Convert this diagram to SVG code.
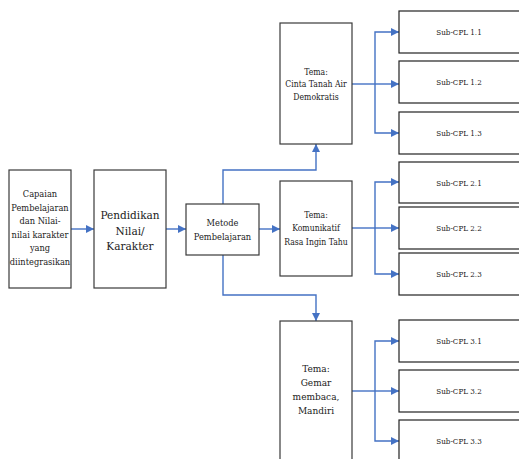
<svg xmlns="http://www.w3.org/2000/svg" width="519" height="459" viewBox="0 0 519 459">
<defs>
<marker id="ah" viewBox="0 0 10 10" refX="10" refY="5" markerWidth="8" markerHeight="8" markerUnits="userSpaceOnUse" orient="auto">
<path d="M0,0 L10,5 L0,10 z" fill="#4472C4"/>
</marker>
<style>
.box{fill:#fff;stroke:#3a3a3a;stroke-width:1.2}
.sub{fill:#fff;stroke:#222;stroke-width:1.2}
text{font-family:'DejaVu Serif Condensed','DejaVu Serif','Liberation Serif',serif;font-stretch:condensed;fill:#222;text-anchor:middle}
.s1{font-size:9.2px}
.s2{font-size:11.7px}
.s3{font-size:8.6px}
.s4{font-size:10px}
.s5{font-size:8px}
.c{fill:none;stroke:#4472C4;stroke-width:1.4}
.a{marker-end:url(#ah)}
</style>
</defs>
<rect width="519" height="459" fill="#fff"/>
<g id="connectors">
<line class="c a" x1="71" y1="229" x2="94" y2="229"/>
<line class="c a" x1="166" y1="229" x2="186" y2="229"/>
<line class="c a" x1="259" y1="229" x2="280" y2="229"/>
<polyline class="c a" points="223,204 223,170 316,170 316,144"/>
<polyline class="c a" points="223,255 223,295 316,295 316,321"/>
<line class="c" x1="352" y1="84" x2="375" y2="84"/>
<polyline class="c a" points="375,84 375,32 399,32"/>
<line class="c a" x1="375" y1="84" x2="399" y2="84"/>
<polyline class="c a" points="375,84 375,133 399,133"/>
<line class="c" x1="352" y1="228" x2="375" y2="228"/>
<polyline class="c a" points="375,228 375,182 399,182"/>
<line class="c a" x1="375" y1="228" x2="399" y2="228"/>
<polyline class="c a" points="375,228 375,274 399,274"/>
<line class="c" x1="352" y1="391" x2="375" y2="391"/>
<polyline class="c a" points="375,391 375,341 399,341"/>
<line class="c a" x1="375" y1="391" x2="399" y2="391"/>
<polyline class="c a" points="375,391 375,441 399,441"/>
</g>
<g id="capaian">
<rect class="box" x="9" y="170" width="62" height="118"/>
<text class="s1" x="40" y="197">Capaian</text>
<text class="s1" x="40" y="210.5">Pembelajaran</text>
<text class="s1" x="40" y="224">dan Nilai-</text>
<text class="s1" x="40" y="237.5">nilai karakter</text>
<text class="s1" x="40" y="251">yang</text>
<text class="s1" x="40" y="264.5">diintegrasikan</text>
</g>
<g id="pendidikan">
<rect class="box" x="94" y="170" width="72" height="118"/>
<text class="s2" x="130" y="219">Pendidikan</text>
<text class="s2" x="130" y="234.5">Nilai/</text>
<text class="s2" x="130" y="250">Karakter</text>
</g>
<g id="metode">
<rect class="box" x="186" y="204" width="73" height="51"/>
<text class="s1" x="222.5" y="226">Metode</text>
<text class="s1" x="222.5" y="240">Pembelajaran</text>
</g>
<g id="tema1">
<rect class="box" x="280" y="23" width="72" height="121"/>
<text class="s3" x="316" y="74.5">Tema:</text>
<text class="s3" x="316" y="87">Cinta Tanah Air</text>
<text class="s3" x="316" y="99.5">Demokratis</text>
</g>
<g id="tema2">
<rect class="box" x="280" y="181" width="72" height="95"/>
<text class="s3" x="316" y="217.5">Tema:</text>
<text class="s3" x="316" y="231">Komunikatif</text>
<text class="s3" x="316" y="244.5">Rasa Ingin Tahu</text>
</g>
<g id="tema3">
<rect class="box" x="280" y="321" width="72" height="150"/>
<text class="s4" x="316" y="372">Tema:</text>
<text class="s4" x="316" y="386">Gemar</text>
<text class="s4" x="316" y="400">membaca,</text>
<text class="s4" x="316" y="414">Mandiri</text>
</g>
<g id="sub11"><rect class="sub" x="399" y="11" width="130" height="42"/><text class="s5" x="459" y="35">Sub-CPL 1.1</text></g>
<g id="sub12"><rect class="sub" x="399" y="61" width="130" height="42"/><text class="s5" x="459" y="85">Sub-CPL 1.2</text></g>
<g id="sub13"><rect class="sub" x="399" y="112" width="130" height="42"/><text class="s5" x="459" y="136">Sub-CPL 1.3</text></g>
<g id="sub21"><rect class="sub" x="399" y="162" width="130" height="41"/><text class="s5" x="459" y="185.5">Sub-CPL 2.1</text></g>
<g id="sub22"><rect class="sub" x="399" y="207" width="130" height="42"/><text class="s5" x="459" y="231">Sub-CPL 2.2</text></g>
<g id="sub23"><rect class="sub" x="399" y="253" width="130" height="42"/><text class="s5" x="459" y="277">Sub-CPL 2.3</text></g>
<g id="sub31"><rect class="sub" x="399" y="320" width="130" height="42"/><text class="s5" x="459" y="344">Sub-CPL 3.1</text></g>
<g id="sub32"><rect class="sub" x="399" y="370" width="130" height="42"/><text class="s5" x="459" y="394">Sub-CPL 3.2</text></g>
<g id="sub33"><rect class="sub" x="399" y="420" width="130" height="42"/><text class="s5" x="459" y="444">Sub-CPL 3.3</text></g>
</svg>
